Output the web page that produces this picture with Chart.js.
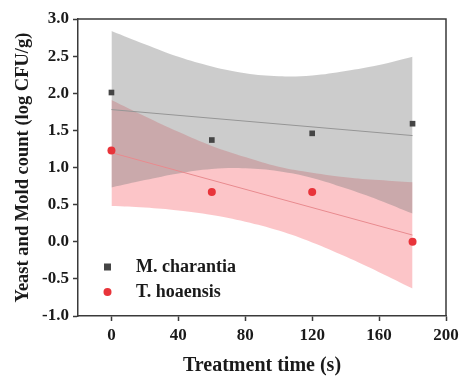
<!DOCTYPE html>
<html>
<head>
<meta charset="utf-8">
<script src="https://cdn.jsdelivr.net/npm/chart.js@4.4.1/dist/chart.umd.min.js"></script>
<style>
  html, body { margin: 0; padding: 0; background: #fff; }
  #wrap { width: 465px; height: 378px; }
</style>
</head>
<body>
<div id="wrap"><canvas id="chart"></canvas></div>
<script>
// measured points
const times = [0, 60, 120, 180];
const charantia = [2.01, 1.37, 1.46, 1.59];
const hoaensis = [1.23, 0.67, 0.67, 0.00];

// fitted lines (end points)
const fitX = [0, 180];
const charantiaFit = [1.78, 1.43];
const hoaensisFit = [1.20, 0.09];

// confidence bands, read every 20 s
const bandX = [0, 20, 40, 60, 80, 100, 120, 140, 160, 180];
const charantiaUpper = [2.84, 2.66, 2.49, 2.36, 2.27, 2.23, 2.24, 2.30, 2.38, 2.49];
const charantiaLower = [0.73, 0.83, 0.92, 0.98, 0.99, 0.95, 0.86, 0.72, 0.56, 0.38];
const hoaensisUpper = [1.91, 1.69, 1.48, 1.29, 1.14, 1.01, 0.93, 0.87, 0.83, 0.80];
const hoaensisLower = [0.48, 0.46, 0.42, 0.36, 0.27, 0.15, -0.01, -0.20, -0.41, -0.63];

const xTicks = [0, 40, 80, 120, 160, 200];
const yTicks = [-1.0, -0.5, 0.0, 0.5, 1.0, 1.5, 2.0, 2.5, 3.0];

const pts = (xs, ys) => xs.map((x, i) => ({ x: x, y: ys[i] }));

const FONT = "'Liberation Serif', 'DejaVu Serif', serif";
const AXIS = '#3a3a3a';

const greyFill = 'rgba(128,128,128,0.40)';
const pinkFill = 'rgba(245,40,50,0.27)';

// box around plot + legend inside plot
const frameAndLegend = {
    id: 'frameAndLegend',
    afterDraw(chart) {
        const { ctx, chartArea: a } = chart;
        ctx.save();
        ctx.strokeStyle = AXIS;
        ctx.lineWidth = 1.5;
        ctx.beginPath();
        ctx.moveTo(a.left, a.top);
        ctx.lineTo(a.right, a.top);
        ctx.lineTo(a.right, a.bottom);
        ctx.stroke();

        const items = [
            { label: 'M. charantia', color: '#454545', shape: 'square', y: 267 },
            { label: 'T. hoaensis', color: '#e8343a', shape: 'circle', y: 292 }
        ];
        ctx.font = 'bold 18px ' + FONT;
        ctx.textBaseline = 'middle';
        items.forEach(it => {
            ctx.fillStyle = it.color;
            if (it.shape === 'square') {
                ctx.fillRect(104, it.y - 3.5, 7, 7);
            } else {
                ctx.beginPath();
                ctx.arc(107.5, it.y, 4, 0, Math.PI * 2);
                ctx.fill();
            }
            ctx.fillStyle = '#1a1a1a';
            ctx.fillText(it.label, 136, it.y);
        });
        ctx.restore();
    }
};

new Chart(document.getElementById('chart'), {
    type: 'scatter',
    data: {
        datasets: [
            // pink band first, grey band drawn over it
            { type: 'line', data: pts(bandX, hoaensisLower), borderWidth: 0, pointRadius: 0, fill: false, tension: 0.4, order: 10 },
            { type: 'line', data: pts(bandX, hoaensisUpper), borderWidth: 0, pointRadius: 0, fill: '-1', backgroundColor: pinkFill, tension: 0.4, order: 9 },
            { type: 'line', data: pts(bandX, charantiaLower), borderWidth: 0, pointRadius: 0, fill: false, tension: 0.4, order: 8 },
            { type: 'line', data: pts(bandX, charantiaUpper), borderWidth: 0, pointRadius: 0, fill: '-1', backgroundColor: greyFill, tension: 0.4, order: 7 },
            { type: 'line', data: pts(fitX, charantiaFit), borderColor: '#959595', borderWidth: 1, pointRadius: 0, fill: false, order: 5 },
            { type: 'line', data: pts(fitX, hoaensisFit), borderColor: '#e88a8e', borderWidth: 1, pointRadius: 0, fill: false, order: 4 },
            { label: 'M. charantia', data: pts(times, charantia), pointStyle: 'rect', pointRadius: 4, backgroundColor: '#454545', borderWidth: 0, order: 1 },
            { label: 'T. hoaensis', data: pts(times, hoaensis), pointStyle: 'circle', pointRadius: 4, backgroundColor: '#e8343a', borderWidth: 0, order: 1 }
        ]
    },
    options: {
        responsive: true,
        maintainAspectRatio: false,
        animation: false,
        layout: { padding: { top: 19, right: 19, bottom: 0, left: 0 } },
        plugins: {
            legend: { display: false },
            tooltip: { enabled: false },
            filler: { propagate: false }
        },
        scales: {
            x: {
                type: 'linear',
                min: -20,
                max: 200,
                afterBuildTicks: axis => { axis.ticks = xTicks.map(v => ({ value: v })); },
                afterFit: axis => { axis.height = 62; },
                grid: { drawOnChartArea: false, drawTicks: true, tickLength: 5, tickColor: AXIS, tickWidth: 1.5 },
                border: { display: true, color: AXIS, width: 1.5 },
                ticks: { color: '#1a1a1a', font: { family: FONT, size: 17, weight: 'bold' }, padding: 4, maxRotation: 0 },
                title: { display: true, text: 'Treatment time (s)', color: '#1a1a1a', font: { family: FONT, size: 20, weight: 'bold' }, padding: { top: 0, bottom: 0 } }
            },
            y: {
                type: 'linear',
                min: -1,
                max: 3,
                afterBuildTicks: axis => { axis.ticks = yTicks.map(v => ({ value: v })); },
                afterFit: axis => { axis.width = 78; },
                grid: { drawOnChartArea: false, drawTicks: true, tickLength: 5, tickColor: AXIS, tickWidth: 1.5 },
                border: { display: true, color: AXIS, width: 1.5 },
                ticks: { color: '#1a1a1a', font: { family: FONT, size: 17, weight: 'bold' }, padding: 4, callback: v => v.toFixed(1) },
                title: { display: true, text: 'Yeast and Mold count (log CFU/g)', color: '#1a1a1a', font: { family: FONT, size: 18.5, weight: 'bold' }, padding: { top: 12, bottom: 0 } }
            }
        }
    },
    plugins: [frameAndLegend]
});
</script>
</body>
</html>
